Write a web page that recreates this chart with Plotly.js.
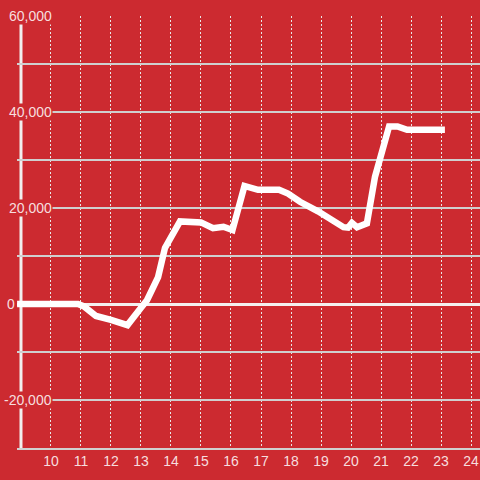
<!DOCTYPE html>
<html>
<head>
<meta charset="utf-8">
<script src="https://cdn.plot.ly/plotly-3.0.1.min.js"></script>
<style>html,body{margin:0;padding:0;background:#cc2a30;}#chart{width:480px;height:480px;}</style>
</head>
<body>
<div id="chart"></div>
<script>
// Data
const xValues = [8.87, 10.9, 11.1, 11.5, 12.0, 12.55, 13.0, 13.2, 13.57, 13.8, 14.3, 14.8, 15.0, 15.4, 15.75, 16.05, 16.45, 16.9, 17.6, 17.9, 18.3, 18.9, 19.3, 19.75, 19.9, 20.03, 20.2, 20.53, 20.8, 21.27, 21.55, 21.87, 23.13];
const yValues = [0, 0, -500, -2500, -3300, -4400, -800, 800, 5600, 11700, 17200, 17200, 17000, 15800, 16100, 15400, 24600, 23800, 23800, 23000, 21300, 19300, 17700, 16000, 15900, 16900, 16000, 16800, 26500, 37000, 37000, 36300, 36300];
const xTickVals = [10, 11, 12, 13, 14, 15, 16, 17, 18, 19, 20, 21, 22, 23, 24];
const xTickText = ['10', '11', '12', '13', '14', '15', '16', '17', '18', '19', '20', '21', '22', '23', '24'];
const yTickVals = [-20000, 0, 20000, 40000, 60000];
const yTickText = ['-20,000', '0', '20,000', '40,000', '60,000'];

const BG = '#cc2a30';
const LABEL = 'rgba(255,255,255,0.86)';
const FONT = 'Liberation Sans, Arial, sans-serif';

const annotations = yTickVals.map((v, i) => {
  const isZero = v === 0;
  return {
    xref: 'paper', yref: 'y',
    x: isZero ? -0.024 : 0.0775,
    xanchor: isZero ? 'left' : 'right',
    y: v, yanchor: 'middle',
    text: yTickText[i], showarrow: false,
    font: {family: FONT, size: 14, color: LABEL},
    bgcolor: BG, borderpad: 0
  };
});

const trace = {
  x: xValues, y: yValues, type: 'scatter', mode: 'lines',
  line: {color: '#ffffff', width: 6.5, shape: 'linear'},
  hoverinfo: 'skip'
};

const layout = {
  width: 480, height: 480,
  margin: {l: 17, r: 0, t: 16, b: 32, pad: 0},
  paper_bgcolor: BG, plot_bgcolor: BG,
  showlegend: false,
  font: {family: FONT, size: 14, color: LABEL},
  xaxis: {
    range: [8.867, 24.3], tickvals: xTickVals, ticktext: xTickText,
    showgrid: true, gridcolor: '#e8e8e8', gridwidth: 1, griddash: '2px,2px',
    showline: true, linecolor: '#d0d0d0', linewidth: 1.5,
    zeroline: false, ticks: '', tickfont: {family: FONT, size: 14, color: LABEL}
  },
  yaxis: {
    range: [-30000, 60000], tick0: 0, dtick: 10000,
    showgrid: true, gridcolor: '#cfcfcf', gridwidth: 1.2,
    showticklabels: false, ticks: '',
    zeroline: true, zerolinecolor: '#f4f0f0', zerolinewidth: 3,
    showline: false
  },
  shapes: [{
    type: 'line', xref: 'x', yref: 'paper', x0: 9, x1: 9, y0: 0, y1: 1,
    line: {color: '#f2eeee', width: 3}, layer: 'below'
  }],
  annotations: annotations
};

Plotly.newPlot('chart', [trace], layout, {displayModeBar: false, staticPlot: true});
</script>
</body>
</html>
